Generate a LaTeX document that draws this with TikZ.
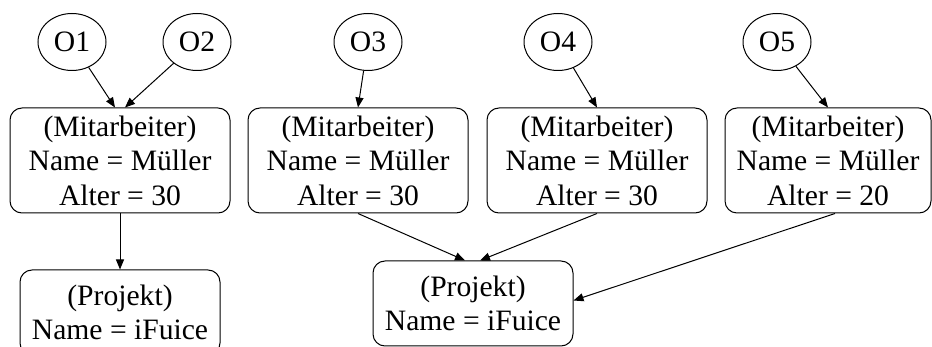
\documentclass[tikz,border=0pt]{standalone}
\usepackage{fontspec}
\setmainfont{Liberation Serif}
\usetikzlibrary{shapes.geometric,arrows.meta}
\begin{document}
\begin{tikzpicture}[x=1pt,y=-1pt,
  every node/.style={font=\fontsize{29.6}{34.6}\selectfont},
  obj/.style={draw,ellipse,line width=1pt,minimum width=68pt,minimum height=57pt,inner sep=0pt},
  ent/.style={draw,rectangle,rounded corners=12pt,line width=1pt,minimum width=220pt,minimum height=105pt,align=center,inner sep=0pt},
  proj/.style={draw,rectangle,rounded corners=12pt,line width=1pt,minimum width=200pt,minimum height=85pt,align=center,inner sep=0pt},
  arr/.style={line width=1pt,-{Triangle[length=10pt,width=8pt]}}]
\useasboundingbox (0,0) rectangle (932,347);
\node[obj] (o1) at (72,42) {O1};
\node[obj] (o2) at (197,42) {O2};
\node[obj] (o3) at (368,42) {O3};
\node[obj] (o4) at (558,42) {O4};
\node[obj] (o5) at (777,42) {O5};
\node[ent] (m1) at (120,160.5) {(Mitarbeiter)\\Name = Müller\\Alter = 30};
\node[ent] (m2) at (358,160.5) {(Mitarbeiter)\\Name = Müller\\Alter = 30};
\node[ent] (m3) at (597,160.5) {(Mitarbeiter)\\Name = Müller\\Alter = 30};
\node[ent,minimum width=206pt] (m4) at (828,160.5) {(Mitarbeiter)\\Name = Müller\\Alter = 20};
\node[proj] (p1) at (120,312.5) {(Projekt)\\Name = iFuice};
\node[proj] (p2) at (473,303.5) {(Projekt)\\Name = iFuice};
\draw[arr] (o1) -- ([xshift=-5pt]m1.north);
\draw[arr] (o2) -- ([xshift=5pt]m1.north);
\draw[arr] (o3) -- (m2.north);
\draw[arr] (o4) -- (m3.north);
\draw[arr] (o5) -- (m4.north);
\draw[arr] (m1.south) -- (p1.north);
\draw[arr] (m2.south) -- ([xshift=-8pt]p2.north);
\draw[arr] (m3.south) -- ([xshift=7pt]p2.north);
\draw[arr] ([xshift=7pt]m4.south) -- ([yshift=3pt]p2.east);
\end{tikzpicture}
\end{document}
